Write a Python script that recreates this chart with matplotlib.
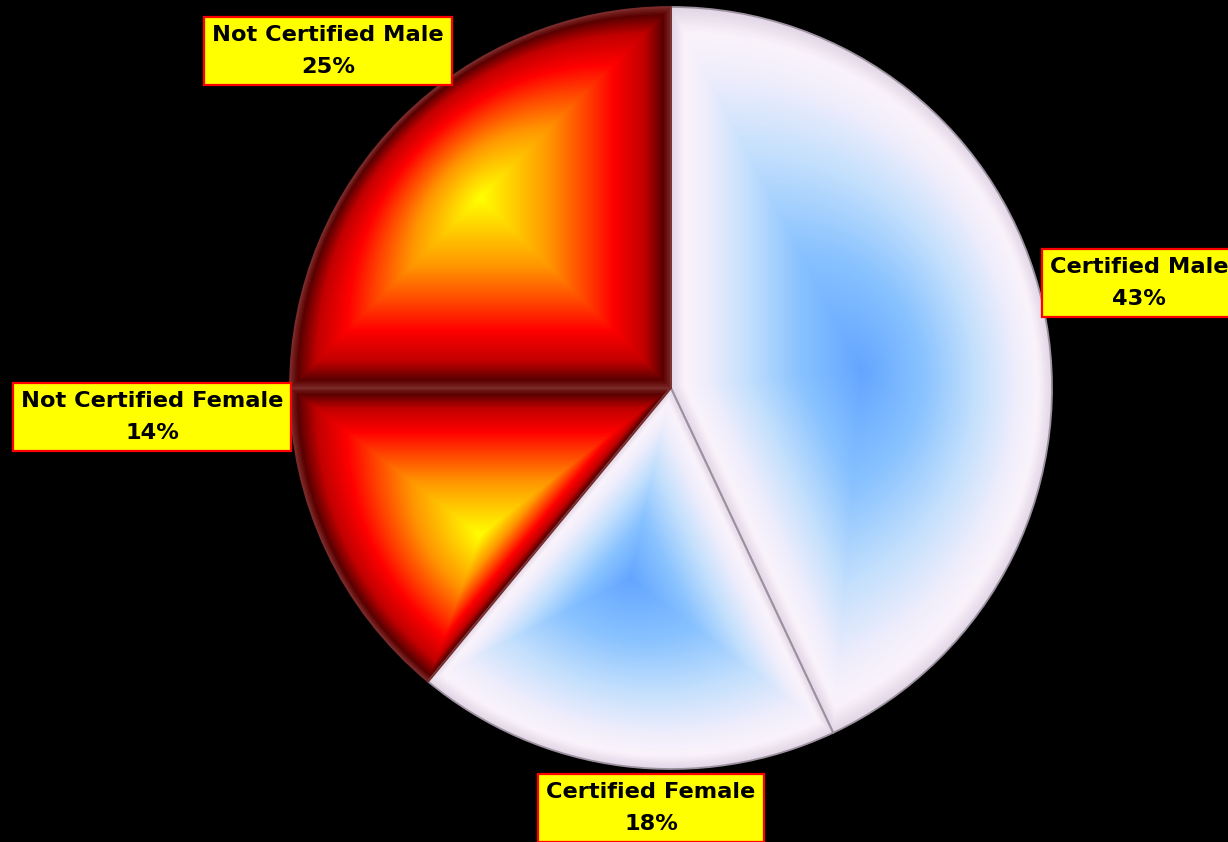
import numpy as np
import matplotlib
matplotlib.use('Agg')
import matplotlib.pyplot as plt
from matplotlib.colors import LinearSegmentedColormap

# ---- data ----
categories = ['Certified Male', 'Certified Female', 'Not Certified Female', 'Not Certified Male']
values = [43, 18, 14, 25]
schemes = ['blue', 'blue', 'red', 'red']

# ---- layout (pixel coords, origin top-left) ----
W, H = 1228, 842
pie_center_px = (671, 388)
pie_radius = 381
label_pos_px = [(1139, 283), (651, 808), (152, 417), (328, 51)]

cmaps = {
    'blue': LinearSegmentedColormap.from_list('blue', [
        (0.00, '#64a6ff'), (0.32, '#88c2ff'), (0.60, '#c4e0fd'),
        (0.82, '#f0eefc'), (0.93, '#faf3fb'), (1.00, '#e2d6e6')]),
    'red': LinearSegmentedColormap.from_list('red', [
        (0.00, '#ffff00'), (0.15, '#ffd400'), (0.36, '#ff9600'),
        (0.56, '#ff4000'), (0.70, '#ff0000'), (0.86, '#c20000'),
        (0.96, '#5a0000'), (1.00, '#7a2626')]),
}
edgecols = {'blue': '#9c929f', 'red': '#7a2a2a'}

fig = plt.figure(figsize=(W / 100, H / 100), dpi=100, facecolor='black')
ax = fig.add_axes([0, 0, 1, 1])
ax.set_facecolor('black')

wedges, _ = ax.pie(values, startangle=90, counterclock=False,
                   center=(pie_center_px[0], H - pie_center_px[1]),
                   radius=pie_radius,
                   wedgeprops=dict(facecolor='none', edgecolor='none'))
ax.set_xlim(0, W)
ax.set_ylim(0, H)
ax.set_aspect('equal')
ax.axis('off')


def ray_t(px, py, cx, cy, poly):
    dx = px - cx
    dy = py - cy
    s_best = np.full(px.shape, np.inf)
    n = len(poly)
    with np.errstate(divide='ignore', invalid='ignore'):
        for i in range(n):
            ax_, ay_ = poly[i]
            bx, by = poly[(i + 1) % n]
            ex, ey = bx - ax_, by - ay_
            wx, wy = ax_ - cx, ay_ - cy
            den = dx * ey - dy * ex
            s = (wx * ey - wy * ex) / den
            u = (wx * dy - wy * dx) / den
            ok = np.isfinite(s) & (s > 0) & (u >= -1e-9) & (u <= 1 + 1e-9)
            s_best = np.where(ok & (s < s_best), s, s_best)
        t = 1.0 / s_best
    t[~np.isfinite(t)] = 0
    return np.clip(t, 0, 1)


for w, sch in zip(wedges, schemes):
    cx0, cy0 = w.center
    r = w.r
    th = np.radians(np.linspace(w.theta1, w.theta2, 240))
    arc = np.column_stack([cx0 + r * np.cos(th), cy0 + r * np.sin(th)])
    poly = np.vstack([[cx0, cy0], arc])
    xmin, ymin = poly.min(axis=0)
    xmax, ymax = poly.max(axis=0)
    gc = ((xmin + xmax) / 2, (ymin + ymax) / 2)
    x0, x1 = np.floor(xmin) - 1, np.ceil(xmax) + 1
    y0, y1 = np.floor(ymin) - 1, np.ceil(ymax) + 1
    xs = np.arange(x0, x1) + 0.5
    ys = np.arange(y0, y1) + 0.5
    PX, PY = np.meshgrid(xs, ys)
    t = ray_t(PX, PY, gc[0], gc[1], poly)
    rgb = cmaps[sch](t)
    im = ax.imshow(rgb, extent=(x0, x1, y0, y1), origin='lower',
                   interpolation='bilinear', zorder=1)
    im.set_clip_path(w)
    w.set_edgecolor(edgecols[sch])
    w.set_linewidth(1.3)
    w.set_zorder(3)

for cat, val, (lx, ly) in zip(categories, values, label_pos_px):
    ax.text(lx, H - ly, f"{cat}\n{val}%", ha='center', va='center',
            fontsize=16.2, fontweight='bold', family='DejaVu Sans',
            linespacing=1.74, color='black', zorder=5, clip_on=False,
            bbox=dict(boxstyle='square,pad=0.36', fc='#ffff00',
                      ec='#ff0000', lw=1.6))

fig.savefig('out.png', dpi=100, facecolor='black')
